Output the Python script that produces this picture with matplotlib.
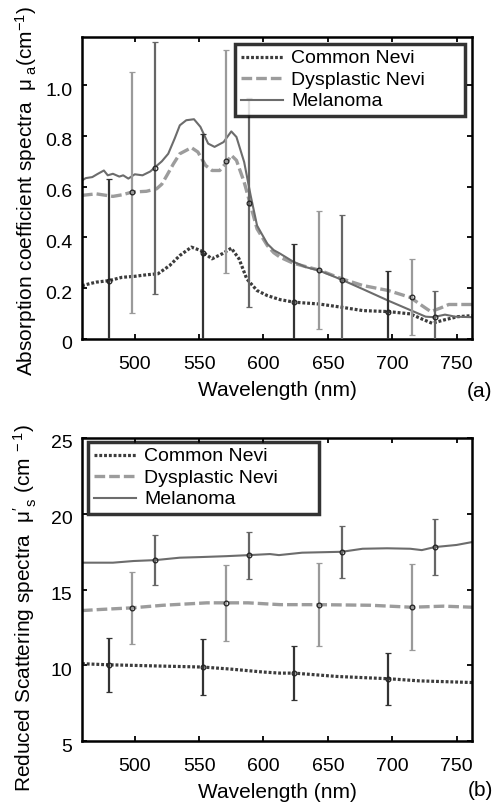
import numpy as np
import matplotlib
matplotlib.use("Agg")
import matplotlib.pyplot as plt
from matplotlib.lines import Line2D
from matplotlib.transforms import ScaledTranslation

plt.rcParams['font.family'] = ['Liberation Sans', 'DejaVu Sans']
plt.rcParams['mathtext.fontset'] = 'custom'
plt.rcParams['mathtext.rm'] = 'Liberation Sans'
plt.rcParams['mathtext.it'] = 'Liberation Sans:italic'
plt.rcParams['mathtext.default'] = 'regular'

# ---------------- data: panel (a) absorption ----------------
wl_mel_a = [459, 462, 467, 471, 476, 479, 483, 488, 491, 495, 500, 506, 512, 516, 521, 526, 531,
            535, 540, 546, 551, 557, 562, 569, 575, 579, 585, 590, 595, 603, 608, 613, 623, 633,
            643, 652, 661, 677, 697, 714, 726, 732, 741, 749, 762]
mel_a = [0.625, 0.634, 0.638, 0.650, 0.664, 0.645, 0.651, 0.640, 0.645, 0.632, 0.649, 0.645, 0.660,
         0.678, 0.700, 0.730, 0.790, 0.842, 0.862, 0.866, 0.836, 0.770, 0.757, 0.776, 0.818, 0.796,
         0.697, 0.566, 0.447, 0.375, 0.350, 0.336, 0.305, 0.283, 0.270, 0.252, 0.233, 0.197, 0.151,
         0.114, 0.088, 0.086, 0.096, 0.088, 0.086]

wl_dys_a = [459, 470, 483, 490, 498, 509, 517, 521, 525, 530, 535, 544, 549, 555, 560, 566, 572,
            575, 579, 585, 590, 595, 603, 608, 613, 623, 633, 643, 661, 677, 697, 714, 725, 730,
            737, 744, 762]
dys_a = [0.566, 0.572, 0.562, 0.568, 0.579, 0.582, 0.592, 0.610, 0.645, 0.690, 0.730, 0.754, 0.737,
         0.684, 0.664, 0.664, 0.700, 0.724, 0.704, 0.618, 0.526, 0.434, 0.368, 0.340, 0.322, 0.299,
         0.285, 0.272, 0.237, 0.211, 0.191, 0.164, 0.125, 0.108, 0.121, 0.136, 0.136]

wl_com_a = [459, 465, 470, 480, 490, 500, 509, 518, 527, 535, 544, 551, 560, 568, 575, 581, 587,
            595, 603, 613, 624, 643, 661, 677, 697, 714, 723, 731, 741, 751, 762]
com_a = [0.210, 0.218, 0.224, 0.230, 0.243, 0.247, 0.253, 0.257, 0.289, 0.329, 0.362, 0.349, 0.316,
         0.336, 0.358, 0.316, 0.237, 0.191, 0.171, 0.155, 0.145, 0.138, 0.125, 0.112, 0.108, 0.099,
         0.079, 0.062, 0.076, 0.088, 0.092]

# error bars (a)
eb_com_wl_a = [480, 553, 624, 697]
eb_com_a = [0.230, 0.339, 0.145, 0.108]
eb_com_err_a = [0.400, 0.469, 0.230, 0.159]
eb_dys_wl_a = [498, 571, 643, 715]
eb_dys_a = [0.579, 0.700, 0.272, 0.164]
eb_dys_err_a = [0.475, 0.440, 0.234, 0.150]
eb_mel_wl_a = [516, 589, 661, 733]
eb_mel_a = [0.675, 0.537, 0.233, 0.086]
eb_mel_err_a = [0.497, 0.412, 0.256, 0.105]

# ---------------- data: panel (b) scattering ----------------
wl_mel_b = [459, 483, 499, 516, 535, 551, 571, 589, 605, 612, 630, 661, 677, 696, 714, 723, 733, 750, 762]
mel_b = [16.77, 16.77, 16.88, 16.94, 17.10, 17.14, 17.20, 17.27, 17.34, 17.27, 17.43, 17.49, 17.69,
         17.72, 17.69, 17.60, 17.80, 17.94, 18.13]
wl_dys_b = [459, 473, 498, 522, 556, 571, 588, 613, 643, 683, 715, 740, 762]
dys_b = [13.61, 13.68, 13.79, 13.96, 14.12, 14.12, 14.12, 14.00, 14.00, 13.96, 13.83, 13.90, 13.83]
wl_com_b = [459, 480, 509, 553, 574, 600, 613, 624, 657, 697, 721, 762]
com_b = [10.10, 10.03, 9.97, 9.88, 9.75, 9.55, 9.48, 9.48, 9.26, 9.11, 8.97, 8.86]

eb_com_wl_b = [480, 553, 624, 697]
eb_com_b = [10.03, 9.88, 9.48, 9.11]
eb_com_err_b = [1.80, 1.87, 1.78, 1.72]
eb_dys_wl_b = [498, 571, 643, 715]
eb_dys_b = [13.79, 14.12, 14.00, 13.83]
eb_dys_err_b = [2.36, 2.50, 2.74, 2.85]
eb_mel_wl_b = [516, 589, 661, 733]
eb_mel_b = [16.94, 17.27, 17.49, 17.80]
eb_mel_err_b = [1.63, 1.55, 1.70, 1.85]

labels = ['Common Nevi', 'Dysplastic Nevi', 'Melanoma']
xticks = [500, 550, 600, 650, 700, 750]
yticks_a = [0, 0.2, 0.4, 0.6, 0.8, 1.0]
yticklabels_a = ['0', '0.2', '0.4', '0.6', '0.8', '1.0']
yticks_b = [5, 10, 15, 20, 25]

# ---------------- styles ----------------
c_com, c_dys, c_mel = '#3c3c3c', '#9c9c9c', '#6c6c6c'
ls_com = dict(color=c_com, lw=2.3, linestyle=(0, (0.9, 0.6)))
ls_dys = dict(color=c_dys, lw=2.4, linestyle=(0, (3.2, 1.2)))
ls_mel = dict(color=c_mel, lw=1.5, linestyle='-')
FS = 15
TFS = 14
LFS = 14

fig = plt.figure(figsize=(4.99, 8.06), dpi=100)
W, H = 499, 806
ax_a = fig.add_axes([82 / W, 1 - 339 / H, 390 / W, 302 / H])
ax_b = fig.add_axes([82 / W, 1 - 741 / H, 390 / W, 303 / H])


def errb(ax, x, y, e, col):
    ax.errorbar(x, y, yerr=e, fmt='o', ms=3.4, mfc='none', mec='#222222', mew=0.9,
                ecolor=col, elinewidth=1.6, capsize=2.3, capthick=1.7, zorder=3)


def style(ax):
    ax.set_xlim(459, 762)
    ax.set_xticks(xticks)
    ax.tick_params(direction='in', top=True, right=True, length=3.5, width=1.3,
                   labelsize=TFS, pad=7)
    ax.tick_params(axis='x', pad=12)
    for s in ax.spines.values():
        s.set_linewidth(1.8)
    ax.set_xlabel('Wavelength (nm)', fontsize=FS, labelpad=6)


# panel a
ax_a.plot(wl_com_a, com_a, **ls_com, zorder=2)
ax_a.plot(wl_dys_a, dys_a, **ls_dys, zorder=2)
ax_a.plot(wl_mel_a, mel_a, **ls_mel, zorder=2)
errb(ax_a, eb_com_wl_a, eb_com_a, eb_com_err_a, '#333333')
errb(ax_a, eb_dys_wl_a, eb_dys_a, eb_dys_err_a, '#9a9a9a')
errb(ax_a, eb_mel_wl_a, eb_mel_a, eb_mel_err_a, '#666666')
style(ax_a)
ax_a.set_ylim(0, 1.19)
ax_a.set_yticks(yticks_a)
ax_a.set_yticklabels(yticklabels_a)
ax_a.set_ylabel('Absorption coefficient spectra  μ$_{\\ a}$(cm$^{-1}$)', fontsize=FS)
ax_a.yaxis.set_label_coords(-0.11, 0.49)

# panel b
ax_b.plot(wl_com_b, com_b, **ls_com, zorder=2)
ax_b.plot(wl_dys_b, dys_b, **ls_dys, zorder=2)
ax_b.plot(wl_mel_b, mel_b, **ls_mel, zorder=2)
errb(ax_b, eb_com_wl_b, eb_com_b, eb_com_err_b, '#333333')
errb(ax_b, eb_dys_wl_b, eb_dys_b, eb_dys_err_b, '#9a9a9a')
errb(ax_b, eb_mel_wl_b, eb_mel_b, eb_mel_err_b, '#666666')
style(ax_b)
ax_b.set_ylim(5, 25)
ax_b.set_yticks(yticks_b)
ax_b.set_ylabel('Reduced Scattering spectra  μ$^{\\prime}_{\\ s}$ (cm$^{\\ -1}$)', fontsize=FS)
ax_b.yaxis.set_label_coords(-0.11, 0.44)

# y tick labels sit slightly below their ticks in the reference
for ax in (ax_a, ax_b):
    for lab in ax.get_yticklabels():
        lab.set_transform(lab.get_transform() + ScaledTranslation(0, -4 / 100, fig.dpi_scale_trans))

handles = [Line2D([], [], **ls_com), Line2D([], [], **ls_dys), Line2D([], [], **ls_mel)]
for ax, bb in [(ax_a, (0.392, 0.70, 0.590, 0.277)), (ax_b, (0.015, 0.70, 0.592, 0.287))]:
    leg = ax.legend(handles, labels, loc='upper left', bbox_to_anchor=bb, mode='expand',
                    fontsize=LFS, frameon=True, fancybox=False, borderpad=0.3,
                    labelspacing=0.2, handlelength=2.2, handletextpad=0.4, borderaxespad=0.0)
    leg.get_frame().set_edgecolor('black')
    leg.get_frame().set_linewidth(2.5)
    leg.set_zorder(10)

fig.text(480 / W, 1 - 391 / H, '(a)', fontsize=FS, ha='center', va='center')
fig.text(480 / W, 1 - 791 / H, '(b)', fontsize=FS, ha='center', va='center')

fig.savefig('out.png', dpi=100)
